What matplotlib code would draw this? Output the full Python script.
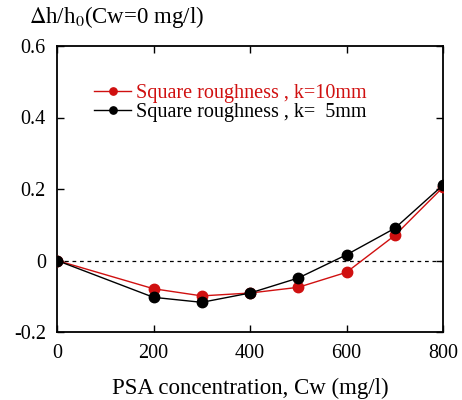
import matplotlib
matplotlib.use("Agg")
import matplotlib.pyplot as plt

plt.rcParams["font.family"] = ["Liberation Serif", "DejaVu Serif"]
plt.rcParams["mathtext.fontset"] = "stix"

cw = [0, 200, 300, 400, 500, 600, 700, 800]
k10 = [0.0, -0.079, -0.099, -0.091, -0.075, -0.033, 0.070, 0.205]
k5 = [0.0, -0.103, -0.117, -0.091, -0.049, 0.016, 0.090, 0.211]
labels = ["Square roughness , k=10mm", "Square roughness , k=  5mm"]
colors = ["#d01010", "black"]

fig = plt.figure(figsize=(4.62, 4.0), dpi=100)
ax = fig.add_axes([0.1234, 0.17, 0.8355, 0.715])

ax.axhline(0, color="black", linestyle=(0, (3, 3)), linewidth=0.9, zorder=1)
for y, lab, c in zip([k10, k5], labels, colors):
    ax.plot(cw, y, "-o", color=c, linewidth=1.0, markersize=7.5, label=lab, zorder=3)

ax.set_xlim(0, 800)
ax.set_ylim(-0.2, 0.6)
ax.set_xticks([0, 200, 400, 600, 800])
ax.set_yticks([-0.2, 0, 0.2, 0.4, 0.6])
ax.set_yticklabels(["-0.2", "0", "0.2", "0.4", "0.6"])
ax.tick_params(direction="in", top=True, right=True, labelsize=14.5, length=5, width=1)
ax.tick_params(axis="x", pad=9)
ax.tick_params(axis="y", pad=8)
for s in ax.spines.values():
    s.set_linewidth(1.3)

ax.set_xlabel("PSA concentration, Cw (mg/l)", fontsize=16.5, labelpad=10)
fig.text(0.062, 0.958, r"$\Delta$h/h$_0$(Cw=0 mg/l)", fontsize=16.5, ha="left", va="center")

leg = ax.legend(loc="upper left", bbox_to_anchor=(0.05, 0.93), frameon=False, fontsize=14.5,
                handlelength=1.8, handletextpad=0.25, labelspacing=0.0, markerscale=0.7)
for t, c in zip(leg.get_texts(), colors):
    t.set_color(c)

plt.savefig("out.png", dpi=100)
